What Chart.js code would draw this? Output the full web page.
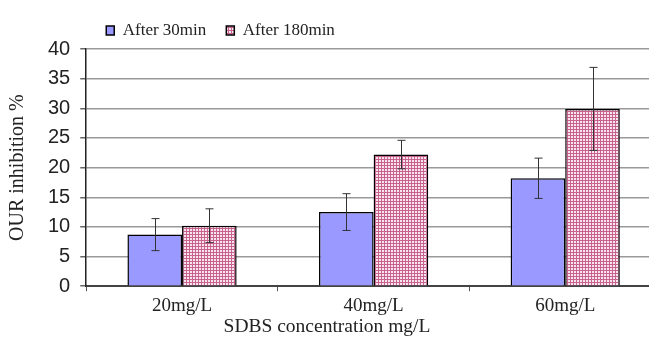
<!DOCTYPE html>
<html>
<head>
<meta charset="utf-8">
<script src="https://cdn.jsdelivr.net/npm/chart.js@4.4.0/dist/chart.umd.min.js"></script>
<style>
  html, body { margin: 0; padding: 0; background: #fff; overflow: hidden; }
  #wrap { position: relative; width: 661px; height: 344px; }
</style>
</head>
<body>
<div id="wrap"><canvas id="chart"></canvas></div>
<script>
// data
const concentrations = ['20mg/L', '40mg/L', '60mg/L'];
const after30 = [8.7, 12.5, 18.2];
const after30Err = [2.7, 3.1, 3.4];
const after180 = [10.2, 22.2, 29.9];
const after180Err = [2.85, 2.4, 7.0];
const yTicks = [0, 5, 10, 15, 20, 25, 30, 35, 40];

// pink checkered fill
function makeCheck() {
    const c = document.createElement('canvas');
    c.width = 3; c.height = 3;
    const g = c.getContext('2d');
    g.fillStyle = '#f7e6ee';
    g.fillRect(0, 0, 3, 3);
    g.fillStyle = '#c9628f';
    g.fillRect(0, 0, 3, 1);
    g.fillRect(0, 0, 1, 3);
    return g.createPattern(c, 'repeat');
}
const check = makeCheck();

const errorBars = {
    id: 'errorBars',
    afterDatasetsDraw(chart) {
        const ctx = chart.ctx;
        const y = chart.scales.y;
        ctx.save();
        ctx.strokeStyle = '#333';
        ctx.lineWidth = 1;
        chart.data.datasets.forEach((ds, i) => {
            const meta = chart.getDatasetMeta(i);
            meta.data.forEach((bar, j) => {
                const v = ds.data[j], e = ds.errors[j];
                const top = y.getPixelForValue(v + e);
                const bot = y.getPixelForValue(v - e);
                const x = Math.round(bar.x) + 0.5;
                ctx.beginPath();
                ctx.moveTo(x, top); ctx.lineTo(x, bot);
                ctx.moveTo(x - 4, top); ctx.lineTo(x + 4, top);
                ctx.moveTo(x - 4, bot); ctx.lineTo(x + 4, bot);
                ctx.stroke();
            });
        });
        ctx.restore();
    }
};

const xTitle = {
    id: 'xTitle',
    afterDraw(chart) {
        const ctx = chart.ctx;
        ctx.save();
        ctx.font = '19.5px "Liberation Serif"';
        ctx.fillStyle = '#222';
        ctx.textAlign = 'center';
        ctx.textBaseline = 'middle';
        ctx.fillText('SDBS concentration mg/L', 327, 327);
        ctx.restore();
    }
};

new Chart(document.getElementById('chart'), {
    type: 'bar',
    data: {
        labels: concentrations,
        datasets: [
            {
                label: 'After 30min',
                data: after30,
                errors: after30Err,
                backgroundColor: '#9999ff',
                borderColor: '#000',
                borderWidth: 1.5
            },
            {
                label: 'After 180min',
                data: after180,
                errors: after180Err,
                backgroundColor: check,
                borderColor: '#000',
                borderWidth: 1.5
            }
        ]
    },
    options: {
        responsive: true,
        maintainAspectRatio: false,
        animation: false,
        layout: { padding: { left: 6, right: 0, top: 2, bottom: 24 } },
        datasets: {
            bar: { categoryPercentage: 0.57, barPercentage: 1.0 }
        },
        plugins: {
            legend: {
                position: 'top',
                align: 'start',
                fullSize: false,
                labels: {
                    boxWidth: 8,
                    boxHeight: 9,
                    padding: 20,
                    color: '#222',
                    font: { family: 'Liberation Serif', size: 17 }
                }
            },
            tooltip: { enabled: false }
        },
        scales: {
            x: {
                grid: { drawOnChartArea: false, drawTicks: true, tickLength: 5, color: '#555' },
                border: { color: '#444', width: 2 },
                ticks: {
                    color: '#222',
                    padding: 3,
                    font: { family: 'Liberation Serif', size: 19 }
                }
            },
            y: {
                min: 0,
                max: 40,
                afterBuildTicks(axis) { axis.ticks = yTicks.map(v => ({ value: v })); },
                grid: { color: '#999', lineWidth: 1.5, tickLength: 6, tickColor: '#666' },
                border: { color: '#222', width: 1.5 },
                ticks: {
                    color: '#222',
                    padding: 10,
                    font: { family: 'Liberation Sans', size: 20 }
                },
                title: {
                    display: true,
                    text: 'OUR inhibition %',
                    color: '#222',
                    padding: { top: 0, bottom: 8 },
                    font: { family: 'Liberation Serif', size: 20 }
                }
            }
        }
    },
    plugins: [errorBars, xTitle]
});
</script>
</body>
</html>
